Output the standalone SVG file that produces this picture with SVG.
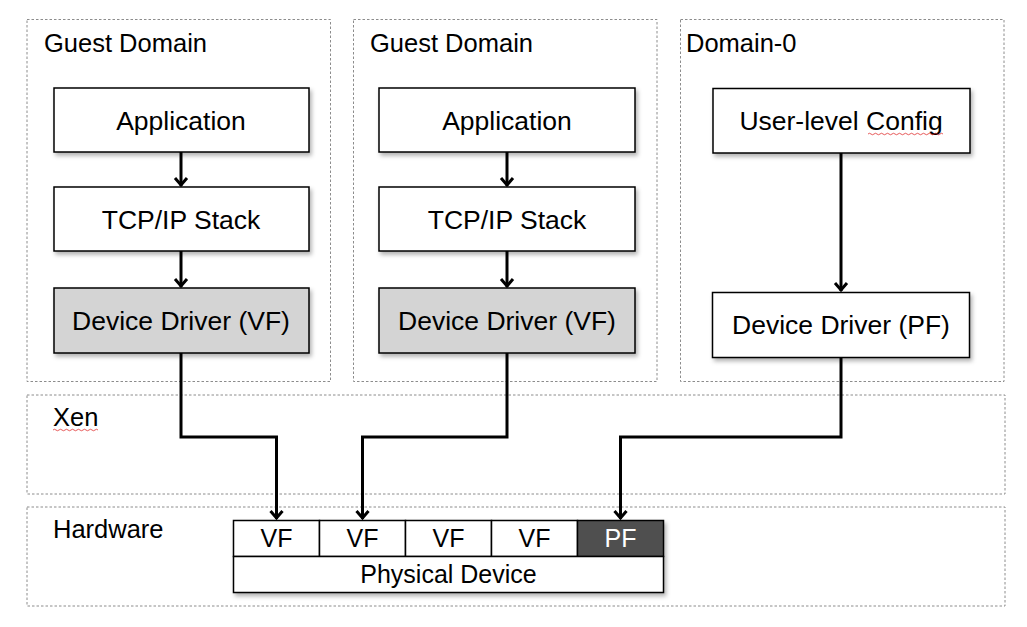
<svg xmlns="http://www.w3.org/2000/svg" width="1027" height="627" viewBox="0 0 1027 627">
<style>
.zone{fill:none;stroke:#8c8c8c;stroke-width:1;stroke-dasharray:2.5 2}
.box{fill:#fff;stroke:#000;stroke-width:1.5;filter:url(#sh)}
.gray{fill:#d4d4d4}
.lbl{font-family:"Liberation Sans",Arial,sans-serif;font-size:25.5px;fill:#000}
.t{font-family:"Liberation Sans",Arial,sans-serif;font-size:26.5px;fill:#000;text-anchor:middle}
.ct{font-family:"Liberation Sans",Arial,sans-serif;font-size:25px;fill:#000;text-anchor:middle}
.cell{fill:#fff;stroke:#000;stroke-width:1.5}
.conn{fill:none;stroke:#000;stroke-width:3;marker-end:url(#ah)}
.sq{fill:none;stroke:#e03030;stroke-width:0.8}
</style>
<defs>
<filter id="sh" x="-10%" y="-20%" width="130%" height="160%">
<feDropShadow dx="2" dy="3" stdDeviation="2" flood-color="#000" flood-opacity="0.3"/>
</filter>
<marker id="ah" markerUnits="userSpaceOnUse" markerWidth="14" markerHeight="18" viewBox="-11 -9 13 18" refX="0" refY="0" orient="auto">
<path d="M-8,-6 L-1,0 L-8,6" fill="none" stroke="#000" stroke-width="3"/>
</marker>
</defs>

<g id="zones">
<rect id="guest1" class="zone" x="27" y="19.5" width="303.5" height="362"/>
<rect id="guest2" class="zone" x="353.5" y="19.5" width="303.5" height="362"/>
<rect id="dom0" class="zone" x="680.5" y="19.5" width="323.5" height="362"/>
<rect id="xen" class="zone" x="27" y="395" width="978" height="99"/>
<rect id="hw" class="zone" x="27" y="507" width="978" height="99"/>
<text class="lbl" x="44" y="52">Guest Domain</text>
<text class="lbl" x="370" y="52">Guest Domain</text>
<text class="lbl" x="686" y="52">Domain-0</text>
<text class="lbl" x="53" y="426">Xen</text>
<path class="sq" d="M53,430 q1.5,-1.5 3,0 t3,0 t3,0 t3,0 t3,0 t3,0 t3,0 t3,0 t3,0 t3,0 t3,0 t3,0 t3,0 t3,0 t3,0"/>
<text class="lbl" x="53" y="538">Hardware</text>
</g>

<g id="app1"><rect class="box" x="54" y="88" width="255" height="64"/><text class="t" x="181" y="130">Application</text></g>
<g id="tcp1"><rect class="box" x="54" y="187" width="255" height="64"/><text class="t" x="181" y="229">TCP/IP Stack</text></g>
<g id="dd1"><rect class="box gray" x="54" y="288" width="255" height="65"/><text class="t" x="181" y="330">Device Driver (VF)</text></g>

<g id="app2"><rect class="box" x="379" y="88" width="256" height="64"/><text class="t" x="507" y="130">Application</text></g>
<g id="tcp2"><rect class="box" x="379" y="187" width="256" height="64"/><text class="t" x="507" y="229">TCP/IP Stack</text></g>
<g id="dd2"><rect class="box gray" x="379" y="288" width="256" height="65"/><text class="t" x="507" y="330">Device Driver (VF)</text></g>

<g id="config"><rect class="box" x="713" y="88.5" width="257" height="64.5"/><text class="t" x="841" y="130">User-level Config</text>
<path class="sq" d="M868,134 q1.5,-1.5 3,0 t3,0 t3,0 t3,0 t3,0 t3,0 t3,0 t3,0 t3,0 t3,0 t3,0 t3,0 t3,0 t3,0 t3,0 t3,0 t3,0 t3,0 t3,0 t3,0 t3,0 t3,0 t3,0 t3,0 t3,0"/></g>
<g id="ddpf"><rect class="box" x="712.5" y="292.5" width="257" height="65"/><text class="t" x="841" y="334">Device Driver (PF)</text></g>

<g id="device" filter="url(#sh)">
<rect class="cell" x="233.5" y="520.5" width="86" height="36"/>
<rect class="cell" x="319.5" y="520.5" width="86" height="36"/>
<rect class="cell" x="405.5" y="520.5" width="86" height="36"/>
<rect class="cell" x="491.5" y="520.5" width="86" height="36"/>
<rect class="cell" x="577.5" y="520.5" width="86" height="36" style="fill:#505050"/>
<rect class="cell" x="233.5" y="556.5" width="430" height="36"/>
</g>
<g id="cells-text">
<text class="ct" x="276.5" y="547">VF</text>
<text class="ct" x="362.5" y="547">VF</text>
<text class="ct" x="448.5" y="547">VF</text>
<text class="ct" x="534.5" y="547">VF</text>
<text class="ct" x="620.5" y="547" style="fill:#fff">PF</text>
<text class="ct" x="448.5" y="583">Physical Device</text>
</g>

<g id="connectors">
<path class="conn" d="M181,152 V186"/>
<path class="conn" d="M181,251 V287"/>
<path class="conn" d="M507,152 V186"/>
<path class="conn" d="M507,251 V287"/>
<path class="conn" d="M841,153 V291"/>
<path class="conn" d="M181,353 V437 H276.5 V519"/>
<path class="conn" d="M507,353 V437 H362.5 V519"/>
<path class="conn" d="M841,357.5 V437 H620.5 V519"/>
</g>
</svg>
